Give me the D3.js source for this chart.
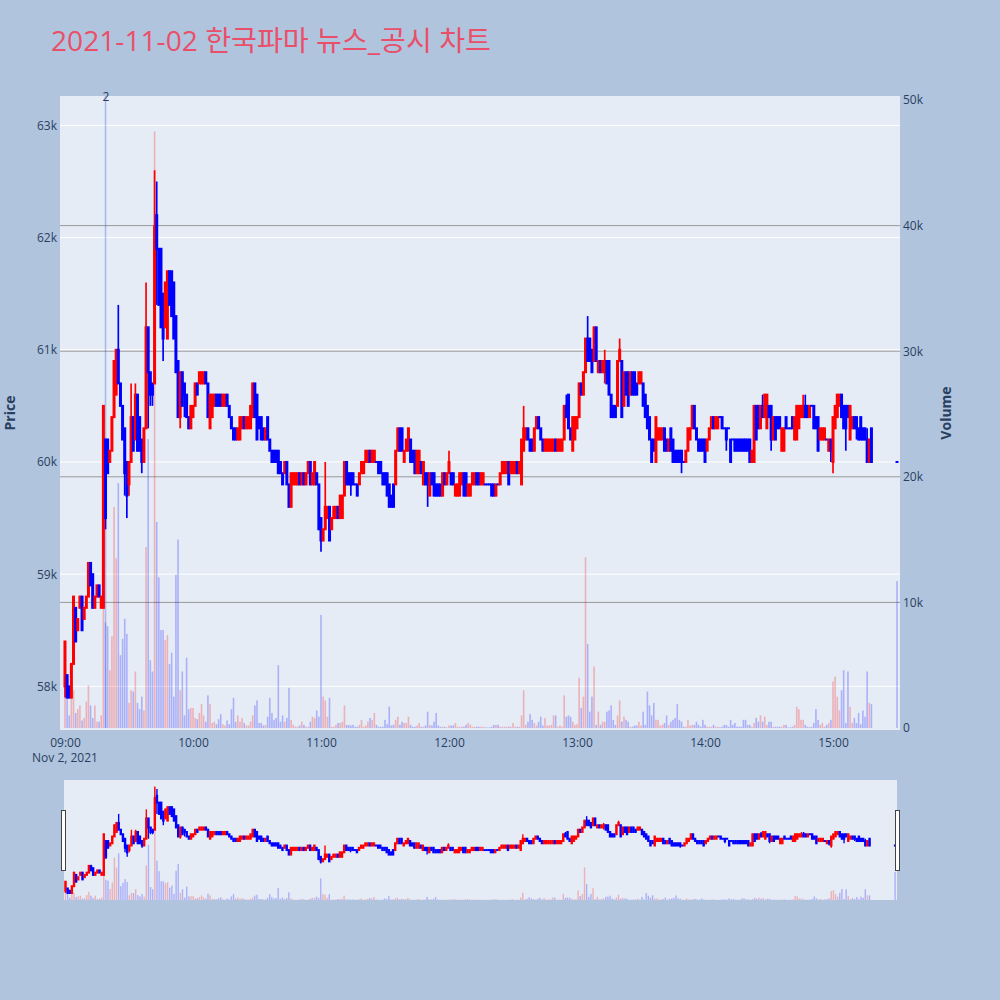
<!DOCTYPE html>
<html><head><meta charset="utf-8">
<script src="https://cdn.jsdelivr.net/npm/d3@7/dist/d3.min.js"></script>
<style>
html,body{margin:0;padding:0;background:#b0c4de;overflow:hidden}
text{font-family:"Open Sans","Noto Sans CJK KR",sans-serif}
</style></head>
<body>
<svg id="c" width="1000" height="1000"></svg>
<script>
// Prices are in units of 100 KRW, volumes in thousands of shares.
// One candle per minute from sessionStart; the last value is the closing auction.
const titleText = "2021-11-02 한국파마 뉴스_공시 차트";
const sessionStart = "09:00";
const closingAuction = "15:30";
const newsTime = "09:19";
const newsLabel = "2";

const openP = [
580,581,580,579,582,587,585,587,588,586,
587,588,591,590,587,588,589,587,587,602,
602,600,601,604,606,610,607,605,603,600,
598,600,604,602,606,604,602,600,603,612,
608,607,607,622,619,619,615,612,611,617,
617,616,613,609,604,608,607,606,604,603,
604,605,607,607,607,607,608,607,603,604,
605,606,606,606,605,605,606,605,604,603,
603,602,602,603,604,603,603,603,604,607,
606,604,604,603,602,604,602,601,601,601,
601,600,599,599,600,598,596,598,598,598,
599,598,599,598,599,600,598,598,599,598,
595,593,594,595,596,594,595,595,596,595,
595,597,600,599,599,599,598,598,598,599,
599,600,600,601,600,600,600,600,600,599,
599,599,598,597,598,598,601,603,603,600,
601,601,602,601,601,599,599,600,598,599,
599,597,599,599,598,598,598,597,599,598,
599,599,599,597,597,597,598,599,599,597,
597,598,598,599,599,598,598,598,598,598,
598,598,597,598,598,599,599,599,600,599,
599,599,600,599,598,601,602,603,602,602,
601,603,604,603,602,601,601,601,601,601,
602,601,601,601,602,605,606,603,601,602,
603,604,607,606,608,611,611,610,609,612,
608,609,608,608,609,609,606,605,605,605,
609,609,605,608,608,606,608,608,607,607,
607,607,606,605,604,602,602,600,602,602,
602,603,602,601,603,602,601,601,601,601,
600,600,601,602,603,605,603,602,602,602,
602,601,602,603,604,603,603,604,604,603,
603,603,602,602,602,602,602,602,602,602,
602,602,600,600,605,605,603,605,604,603,
605,605,602,604,604,604,601,601,604,603,
603,604,602,602,603,604,604,605,605,604,
605,605,604,604,602,602,602,602,601,602,
600,603,604,605,606,605,605,605,602,603,
604,604,603,604,603,603,602,600,603,600];

const highP = [
584,581,580,582,588,587,586,588,588,587,
588,591,591,590,588,589,589,588,605,602,
602,601,604,609,610,614,607,605,603,600,
600,607,604,607,606,604,602,603,616,612,
608,607,626,625,619,619,615,616,617,617,
617,616,613,609,608,608,607,606,604,605,
605,607,607,608,608,608,608,607,606,606,
606,606,606,606,606,606,606,605,604,603,
603,603,604,604,604,604,604,605,607,607,
606,604,604,603,603,604,602,601,601,601,
601,600,599,600,600,598,599,599,599,599,
599,599,599,599,600,600,599,600,599,598,
595,594,600,596,596,595,596,596,596,597,
597,600,600,599,599,599,598,598,599,600,
600,601,601,601,601,601,600,600,600,599,
599,599,598,597,598,601,603,603,603,601,
602,603,602,601,601,601,601,600,600,599,
599,599,599,599,598,598,598,599,599,599,
601,599,599,598,598,599,599,599,599,598,
598,599,599,599,599,599,599,598,598,598,
598,598,598,598,599,600,600,600,600,600,
600,600,600,600,602,605,603,603,602,602,
603,604,604,603,602,602,602,602,602,602,
602,602,602,602,605,606,606,603,604,604,
604,607,607,608,611,613,611,610,612,612,
609,609,609,610,609,609,606,605,605,609,
611,609,608,608,608,608,608,608,607,608,
608,607,606,605,604,602,602,604,603,603,
603,603,602,602,603,602,601,601,601,601,
600,601,603,603,605,605,603,602,602,602,
602,602,603,604,604,604,604,604,604,603,
603,603,602,602,602,602,602,602,602,602,
602,602,601,605,605,605,605,606,606,606,
605,605,604,604,604,604,603,603,604,603,
603,604,604,605,605,605,606,606,605,605,
605,605,604,604,603,603,603,602,602,602,
604,605,606,606,606,605,605,605,605,604,
604,604,603,604,603,603,603,602,603,600];

const lowP = [
579,579,579,579,582,584,585,587,585,586,
587,588,589,587,587,588,588,587,587,594,
599,600,601,604,606,607,605,602,597,595,
597,600,601,602,601,601,599,600,603,603,
605,605,607,614,614,612,609,612,611,614,
613,611,608,604,603,605,604,604,603,603,
604,605,606,607,607,607,607,604,603,604,
605,605,605,605,605,605,605,604,603,602,
602,602,602,603,603,603,603,603,604,604,
602,603,602,602,602,602,601,600,600,600,
599,599,598,599,598,596,596,598,598,598,
598,598,598,598,599,598,598,598,598,594,
592,593,594,595,593,594,595,595,595,595,
595,597,598,598,597,598,598,597,598,599,
599,600,600,600,600,600,600,599,599,598,
598,597,596,596,596,598,601,601,601,600,
601,601,600,600,599,599,599,599,598,598,
596,597,598,597,597,597,597,597,598,598,
599,598,598,597,597,597,598,597,597,597,
597,598,598,598,598,598,598,598,598,598,
597,597,597,598,598,599,599,599,598,599,
599,599,599,599,598,601,602,602,601,601,
601,603,603,602,601,601,601,601,601,601,
601,601,601,601,602,604,603,602,601,602,
603,604,606,606,608,609,609,608,609,609,
608,608,608,607,607,606,604,604,604,605,
609,604,605,606,605,606,606,606,606,607,
607,605,604,603,602,600,601,600,602,602,
602,601,601,601,601,600,600,600,600,599,
600,600,601,602,603,603,602,601,601,601,
600,601,602,603,603,603,603,604,603,603,
601,603,600,602,601,601,601,601,601,601,
601,600,600,600,602,603,603,604,604,603,
604,601,602,602,603,603,601,601,603,603,
603,603,602,602,603,604,604,604,604,604,
605,603,603,601,602,602,602,602,601,600,
599,603,604,605,604,603,601,604,602,603,
603,602,602,602,602,602,600,600,600,600];

const closeP = [
584,579,579,582,588,584,586,588,585,587,
588,591,589,587,588,589,588,588,605,595,
599,601,604,609,610,607,605,602,599,597,
600,604,601,606,601,601,600,603,612,608,
606,606,621,619,614,612,611,616,617,614,
613,611,608,604,608,605,606,604,603,605,
605,607,606,608,608,608,607,604,606,606,
606,605,605,605,606,606,605,604,603,602,
602,603,604,604,603,604,604,605,607,604,
602,603,602,602,603,602,601,600,600,600,
599,599,598,600,598,596,599,599,599,599,
598,599,598,599,600,598,599,600,598,594,
593,594,596,596,593,595,596,596,595,597,
597,600,598,598,598,598,598,597,599,600,
600,601,601,600,601,601,600,599,599,598,
598,597,596,596,596,601,603,601,601,601,
602,603,600,600,599,601,601,599,600,598,
598,599,598,597,597,597,597,599,598,599,
600,598,598,598,598,599,599,597,597,598,
598,599,599,598,598,599,599,598,598,598,
597,597,598,598,599,600,600,600,598,600,
600,600,599,600,602,603,603,602,601,601,
603,604,603,602,601,602,602,602,602,602,
601,602,602,602,605,604,603,602,604,604,
604,607,606,608,611,609,609,608,612,609,
609,608,609,609,607,606,604,604,604,609,
610,604,608,606,605,608,606,606,606,608,
608,605,604,603,602,600,601,604,603,603,
603,601,601,602,601,600,600,600,600,600,
600,601,603,603,605,603,602,601,601,601,
600,602,603,604,603,604,604,604,603,603,
602,603,600,602,601,601,601,601,601,601,
601,600,601,605,602,603,605,604,606,606,
604,602,604,602,603,603,603,603,603,603,
603,603,604,605,605,605,605,604,604,605,
605,603,603,601,603,603,603,602,602,601,
604,605,606,606,604,603,603,604,605,604,
603,603,602,602,602,602,600,602,600,600];

const volumeK = [
3.3,3.0,1.0,2.5,3.0,1.2,1.5,1.8,0.6,0.8,
2.1,3.4,1.8,0.8,1.8,0.5,0.5,1.0,14.7,8.4,
8.1,4.6,7.3,17.6,13.5,19.5,5.8,7.1,8.7,7.5,
2.0,3.0,2.9,4.5,2.0,1.5,2.5,1.4,14.4,23.0,
5.4,4.5,47.5,16.4,12.0,7.8,7.8,7.0,7.4,5.1,
6.0,2.5,12.2,15.0,3.0,4.5,1.0,5.6,1.5,1.6,
1.6,0.8,0.7,1.2,1.9,1.0,0.5,2.6,1.9,0.4,
0.5,0.3,0.7,1.1,0.3,0.2,0.6,0.3,1.5,2.4,
0.5,1.0,0.5,0.8,0.4,0.2,0.2,0.5,1.0,1.8,
2.2,0.4,0.4,0.2,0.25,0.9,2.4,1.2,0.65,0.8,
5.0,0.5,1.0,0.5,0.8,3.2,0.65,0.25,0.1,0.1,
0.2,0.5,0.25,0.1,0.1,0.5,0.9,0.8,1.4,0.9,
9.0,2.5,2.2,0.9,2.4,0.1,0.1,0.25,0.4,0.4,
0.5,1.8,0.25,0.25,0.2,0.25,0.1,0.1,0.25,0.65,
0.1,0.2,0.5,0.8,0.65,1.2,0.25,0.1,0.1,0.1,
0.65,0.3,1.7,0.2,0.25,0.65,0.9,0.25,0.5,0.4,
0.4,0.9,0.25,0.1,0.1,0.2,0.4,0.1,0.1,0.2,
1.3,0.25,0.2,0.5,1.2,0.2,0.1,0.1,0.1,0.05,
0.2,0.2,0.2,0.4,0.1,0.1,0.1,0.1,0.25,0.4,
0.25,0.1,0.1,0.1,0.1,0.1,0.1,0.05,0.05,0.05,
0.1,0.25,0.25,0.25,0.1,0.1,0.1,0.1,0.1,0.1,
0.4,0.1,0.1,0.1,1.0,3.0,0.25,0.5,1.1,0.65,
0.4,0.2,0.5,0.9,0.2,0.8,0.2,0.2,0.25,1.0,
1.0,0.1,0.2,0.1,2.6,0.9,1.0,0.9,0.5,0.25,
0.3,4.0,1.6,2.5,13.6,6.7,1.3,2.5,4.9,0.25,
1.3,0.25,0.5,0.5,1.3,1.4,1.8,0.65,0.25,1.0,
2.2,0.5,0.9,0.65,0.5,0.1,0.1,0.2,0.2,0.5,
0.2,1.3,0.25,2.9,1.8,1.0,2.0,0.65,0.65,0.2,
0.25,0.4,1.0,0.25,0.5,0.65,0.8,1.9,0.65,0.5,
0.1,0.1,0.65,0.2,0.25,0.25,0.5,0.25,0.1,0.65,
0.25,0.1,0.1,0.1,0.25,0.1,0.1,0.05,0.1,0.25,
0.25,0.1,0.65,0.25,0.4,0.1,0.1,0.1,0.65,0.65,
0.25,0.25,0.1,0.4,0.8,0.5,1.0,0.5,0.9,0.25,
0.5,0.5,0.1,0.1,0.1,0.1,0.1,0.25,0.25,0.05,
0.05,0.1,0.25,1.7,1.5,0.65,0.65,0.25,0.1,0.1,
0.1,0.4,1.5,0.65,0.25,0.4,0.1,0.25,0.4,0.65,
3.7,4.1,2.5,1.4,3.0,4.6,0.4,4.5,1.7,0.4,
0.8,0.4,1.2,0.3,1.4,0.9,4.5,2.0,1.9,11.7];

const priceTicks = [580,590,600,610,620,630];
const priceTickLabels = ["58k","59k","60k","61k","62k","63k"];
const volumeTicks = [0,10,20,30,40,50];
const volumeTickLabels = ["0","10k","20k","30k","40k","50k"];
const volumeGrid = [10,20,30,40];
const timeTicks = ["09:00","10:00","11:00","12:00","13:00","14:00","15:00"];
const dateLabel = "Nov 2, 2021";

// ---------- build ----------
const hm = s => { const [h,m] = s.split(":").map(Number); return new Date(2021,10,2,h,m); };
const start = hm(sessionStart);
const n = openP.length;
const data = openP.map((o,i)=>({
  t: i===n-1 ? hm(closingAuction) : d3.timeMinute.offset(start,i),
  o, h:highP[i], l:lowP[i], c:closeP[i], v:volumeK[i]
}));
const RED="#ff0000", BLUE="#0000ff";
const col = d => d.c > d.o ? RED : BLUE;

const svg = d3.select("#c");
svg.append("rect").attr("width",1000).attr("height",1000).attr("fill","#b0c4de");

const X0=60, X1=900, Y0=96, Y1=730;
const x = d3.scaleTime().domain([new Date(2021,10,2,8,57,40), new Date(2021,10,2,15,31,24)]).range([X0,X1]);
const y = d3.scaleLinear().domain([576.11,632.62]).range([Y1,Y0]);
const yv = d3.scaleLinear().domain([0,50]).range([728,100]);

const defs = svg.append("defs");
defs.append("clipPath").attr("id","pc").append("rect").attr("x",X0).attr("y",Y0).attr("width",X1-X0).attr("height",Y1-Y0);

svg.append("rect").attr("x",X0).attr("y",Y0).attr("width",X1-X0).attr("height",Y1-Y0).attr("fill","#e5ecf6");

// price grid
svg.append("g").selectAll("line").data(priceTicks).join("line")
  .attr("x1",X0).attr("x2",X1).attr("y1",d=>y(d)).attr("y2",d=>y(d))
  .attr("stroke","#ffffff").attr("stroke-width",1);
// volume grid
svg.append("g").selectAll("line").data(volumeGrid).join("line")
  .attr("x1",X0).attr("x2",X1).attr("y1",d=>yv(d)).attr("y2",d=>yv(d))
  .attr("stroke","#999999").attr("stroke-width",1);

const plot = svg.append("g").attr("clip-path","url(#pc)");

// volume bars
plot.append("g").selectAll("rect").data(data).join("rect")
  .attr("x",d=>x(d.t)-0.8).attr("width",1.6)
  .attr("y",d=>yv(d.v)).attr("height",d=>yv(0)-yv(d.v))
  .attr("fill",d=>col(d)).attr("fill-opacity",0.25);

// news marker
const nx = x(hm(newsTime));
plot.append("line").attr("x1",nx).attr("x2",nx).attr("y1",Y0).attr("y2",yv(0))
  .attr("stroke","rgb(60,90,230)").attr("stroke-opacity",0.35).attr("stroke-width",1.6);

// candles
const cg = plot.append("g");
cg.selectAll("line").data(data).join("line")
  .attr("x1",d=>x(d.t)).attr("x2",d=>x(d.t))
  .attr("y1",d=>y(d.h)).attr("y2",d=>y(d.l))
  .attr("stroke",col).attr("stroke-width",1.7);
cg.selectAll("rect").data(data).join("rect")
  .attr("x",d=>x(d.t)-1.5).attr("width",3)
  .attr("y",d=>Math.min(y(d.o),y(d.c))-1)
  .attr("height",d=>Math.abs(y(d.o)-y(d.c))+2)
  .attr("fill",col);

svg.append("text").attr("x",nx+0.5).attr("y",101).attr("text-anchor","middle")
  .attr("font-size",12).attr("fill","#2a3f5f").text(newsLabel);

// axes
const styleAxis = g => { g.select(".domain").remove(); g.selectAll("text").attr("font-size",12).attr("fill","#2a3f5f").attr("font-family","'Open Sans',sans-serif"); };
svg.append("g").attr("transform",`translate(${X0},0)`)
  .call(d3.axisLeft(y).tickValues(priceTicks).tickFormat((d,i)=>priceTickLabels[i]).tickSize(0).tickPadding(3)).call(styleAxis);
svg.append("g").attr("transform",`translate(${X1},0)`)
  .call(d3.axisRight(yv).tickValues(volumeTicks).tickFormat((d,i)=>volumeTickLabels[i]).tickSize(0).tickPadding(3)).call(styleAxis);
svg.append("g").attr("transform",`translate(0,${Y1})`)
  .call(d3.axisBottom(x).tickValues(timeTicks.map(hm)).tickFormat((d,i)=>timeTicks[i]).tickSize(0).tickPadding(8)).call(styleAxis);
svg.append("text").attr("x",x(hm(timeTicks[0]))).attr("y",762).attr("text-anchor","middle")
  .attr("font-size",12).attr("fill","#2a3f5f").text(dateLabel);

svg.append("text").attr("transform","translate(15,413) rotate(-90)").attr("text-anchor","middle")
  .attr("font-size",14).attr("font-weight","bold").attr("fill","#2a3f5f").text("Price");
svg.append("text").attr("transform","translate(951,413) rotate(-90)").attr("text-anchor","middle")
  .attr("font-size",14).attr("font-weight","bold").attr("fill","#2a3f5f").text("Volume");

// title
svg.append("text").attr("x",51).attr("y",51).attr("font-size",28).attr("fill","#ea4f6a")
  .attr("textLength",440).attr("lengthAdjust","spacingAndGlyphs").text(titleText);

// ---------- range slider ----------
const SX0=64, SX1=897, SY0=780, SY1=900;
const sx = d3.scaleTime().domain([d3.timeSecond.offset(start,-42), d3.timeSecond.offset(start,23454)]).range([SX0,SX1]);
const sy = d3.scaleLinear().domain([575.9,629]).range([SY1,SY0]);
const syv = d3.scaleLinear().domain([0,50]).range([SY1,SY0]);
defs.append("clipPath").attr("id","sc").append("rect").attr("x",SX0).attr("y",SY0).attr("width",SX1-SX0).attr("height",SY1-SY0);
svg.append("rect").attr("x",SX0).attr("y",SY0).attr("width",SX1-SX0).attr("height",SY1-SY0).attr("fill","#e5ecf6");
const sl = svg.append("g").attr("clip-path","url(#sc)");
sl.append("g").selectAll("rect").data(data).join("rect")
  .attr("x",d=>sx(d.t)-0.7).attr("width",1.4)
  .attr("y",d=>syv(d.v)).attr("height",d=>syv(0)-syv(d.v))
  .attr("fill",d=>col(d)).attr("fill-opacity",0.25);
const sc = sl.append("g");
sc.selectAll("line").data(data).join("line")
  .attr("x1",d=>sx(d.t)).attr("x2",d=>sx(d.t))
  .attr("y1",d=>sy(d.h)).attr("y2",d=>sy(d.l))
  .attr("stroke",col).attr("stroke-width",1.4);
sc.selectAll("rect").data(data).join("rect")
  .attr("x",d=>sx(d.t)-1.2).attr("width",2.4)
  .attr("y",d=>Math.min(sy(d.o),sy(d.c))-1)
  .attr("height",d=>Math.abs(sy(d.o)-sy(d.c))+2)
  .attr("fill",col);
[61.5,895.5].forEach(hx=>{
  svg.append("rect").attr("x",hx).attr("y",810.5).attr("width",4).attr("height",60)
    .attr("fill","#ffffff").attr("stroke","#444444").attr("stroke-width",1);
});
</script>
</body></html>
